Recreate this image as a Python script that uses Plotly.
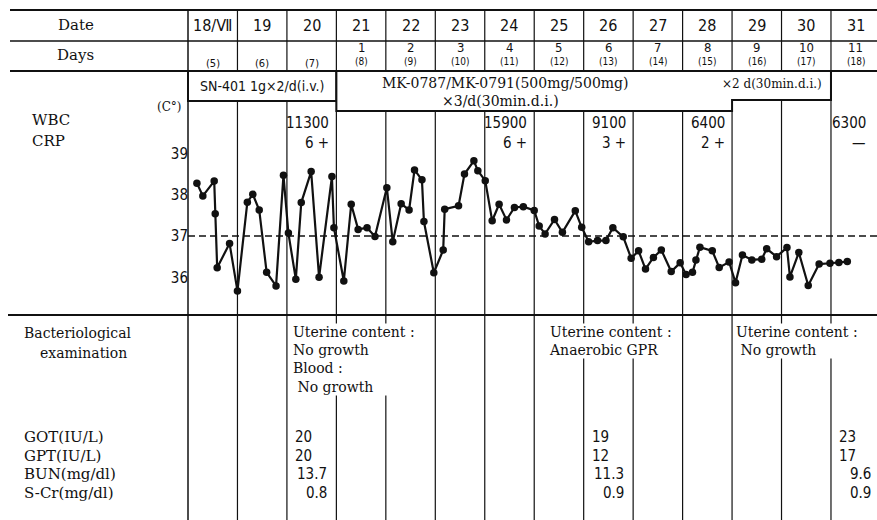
import plotly.graph_objects as go

# ---------------- data ----------------
dates = ["18/Ⅶ", "19", "20", "21", "22", "23", "24", "25", "26", "27", "28", "29", "30", "31"]
post_days = ["", "", "", "1", "2", "3", "4", "5", "6", "7", "8", "9", "10", "11"]
hosp_days = ["(5)", "(6)", "(7)", "(8)", "(9)", "(10)", "(11)", "(12)", "(13)", "(14)", "(15)", "(16)", "(17)", "(18)"]

wbc = ["", "", "11300", "", "", "", "15900", "", "9100", "", "6400", "", "", "6300"]
crp = ["", "", "6 +", "", "", "", "6 +", "", "3 +", "", "2 +", "", "", "—"]

got = ["", "", "20", "", "", "", "", "", "19", "", "", "", "", "23"]
gpt = ["", "", "20", "", "", "", "", "", "12", "", "", "", "", "17"]
bun = ["", "", "13.7", "", "", "", "", "", "11.3", "", "", "", "", "9.6"]
scr = ["", "", "0.8", "", "", "", "", "", "0.9", "", "", "", "", "0.9"]
lab_labels = ["GOT(IU/L)", "GPT(IU/L)", "BUN(mg/dl)", "S-Cr(mg/dl)"]

bact_col = [2, 8, 11]
bact_lines = [
    ["Uterine content :", "No growth", "Blood :", " No growth"],
    ["Uterine content :", "Anaerobic GPR"],
    ["Uterine content :", " No growth"],
]

drug1 = "SN-401 1g×2/d(i.v.)"
drug2a = "MK-0787/MK-0791(500mg/500mg)"
drug2b = "×3/d(30min.d.i.)"
drug2c = "×2 d(30min.d.i.)"

temp_time = [0.18, 0.30, 0.53, 0.55, 0.59, 0.84, 1.00, 1.20, 1.31, 1.44,
             1.59, 1.78, 1.93, 2.03, 2.18, 2.29, 2.49, 2.65, 2.91, 2.95,
             3.15, 3.30, 3.44, 3.62, 3.78, 4.02, 4.14, 4.31, 4.47, 4.58,
             4.73, 4.77, 4.97, 5.16, 5.19, 5.47, 5.59, 5.78, 5.86, 6.01,
             6.15, 6.29, 6.44, 6.60, 6.78, 7.00, 7.10, 7.22, 7.41, 7.57,
             7.83, 7.96, 8.10, 8.28, 8.45, 8.59, 8.80, 8.96, 9.11, 9.25,
             9.41, 9.57, 9.77, 9.95, 10.07, 10.20, 10.27, 10.35, 10.60, 10.74,
             10.94, 11.07, 11.21, 11.40, 11.60, 11.70, 11.90, 12.11, 12.17, 12.35,
             12.54, 12.76, 12.98, 13.16, 13.33]
temp_c = [38.28, 37.97, 38.33, 37.54, 36.23, 36.82, 35.67, 37.82, 38.01, 37.63,
          36.12, 35.79, 38.47, 37.07, 35.95, 37.81, 38.56, 36.00, 38.44, 37.20,
          35.91, 37.77, 37.16, 37.20, 36.99, 38.17, 36.86, 37.78, 37.63, 38.60,
          38.36, 37.35, 36.11, 36.66, 37.65, 37.73, 38.50, 38.82, 38.58, 38.34,
          37.37, 37.77, 37.39, 37.69, 37.71, 37.62, 37.24, 37.05, 37.40, 37.09,
          37.61, 37.21, 36.86, 36.89, 36.89, 37.20, 36.98, 36.46, 36.64, 36.20,
          36.48, 36.66, 36.14, 36.35, 36.07, 36.12, 36.42, 36.73, 36.64, 36.24,
          36.37, 35.87, 36.54, 36.42, 36.44, 36.69, 36.50, 36.72, 36.01, 36.60,
          35.80, 36.32, 36.34, 36.36, 36.38]
temp_ticks = [36, 37, 38, 39]
baseline_temp = 37

# ---------------- layout constants (pixels) ----------------
W, H = 877, 520
X0, CW = 188.0, 49.46          # pixel of day-column 0, column width
T_REF_PY, PX_DEG = 236.0, 41.3  # pixel row of 37 C, pixels per degree
NCOL = len(dates)

SERIF = "DejaVu Serif, Liberation Serif, serif"
NARROW = "Liberation Sans Narrow, DejaVu Sans Condensed, Liberation Sans, sans-serif"
INK = "#111111"


def py(p):
    return 1 - p / H


def pxp(p):
    return p / W


def dx(p):  # pixel -> data x
    return (p - X0) / CW


shapes = []


def hline(y, x0, x1, w=1.8):
    shapes.append(dict(type="line", xref="paper", yref="paper", x0=pxp(x0), x1=pxp(x1),
                       y0=py(y), y1=py(y), line=dict(color=INK, width=w)))


def vline_col(i, y0, y1, w=1.2):
    shapes.append(dict(type="line", xref="x", yref="paper", x0=i, x1=i,
                       y0=py(y0), y1=py(y1), line=dict(color=INK, width=w)))


# horizontal rules
hline(10, 10, W, 2)
hline(41, 10, W, 1.6)
hline(71, 10, W, 2)
hline(315, 8, W, 2)

# vertical rules
vline_col(0, 10, H, 1.5)
for i in range(1, NCOL):
    vline_col(i, 10, 71)
    if i in (1, 2):
        start = 101
    elif 4 <= i <= 10:
        start = 111
    elif i in (11, 12):
        start = 100
    else:
        start = 71
    vline_col(i, start, H)

# drug boxes
shapes.append(dict(type="rect", xref="x", yref="paper", x0=0, x1=3, y0=py(71), y1=py(101),
                   line=dict(color=INK, width=2), fillcolor="white", layer="above"))
path = "M 3 {a} L 13 {a} L 13 {b} L 11 {b} L 11 {c} L 3 {c} Z".format(a=py(71), b=py(100), c=py(111))
shapes.append(dict(type="path", xref="x", yref="paper", path=path,
                   line=dict(color=INK, width=2), fillcolor="white", layer="above"))

# baseline 37 C
shapes.append(dict(type="line", xref="x", yref="y", x0=0, x1=NCOL, y0=baseline_temp, y1=baseline_temp,
                   line=dict(color=INK, width=1.3, dash="7px,4px"), layer="below"))

ann = []


def text(x, y, s, size=14, family=SERIF, xanchor="center", xref="x", bg=None, yanchor="middle"):
    d = dict(x=x, y=y, xref=xref, yref="paper", text=s, showarrow=False, align="left",
             xanchor=xanchor, yanchor=yanchor, font=dict(size=size, family=family, color=INK))
    if bg:
        d.update(bgcolor=bg, borderpad=0)
    ann.append(d)


# header
text(pxp(76), py(25), "Date", 15, SERIF, xref="paper")
text(pxp(75), py(55), "Days", 15, SERIF, xref="paper")
for i in range(NCOL):
    text(i + 0.5, py(25), dates[i], 16, NARROW)
    if post_days[i]:
        text(i + 0.5, py(47), post_days[i], 13, NARROW)
        text(i + 0.5, py(61), hosp_days[i], 10, NARROW)
    else:
        text(i + 0.5, py(63), hosp_days[i], 11, NARROW)

# drugs
text(dx(262), py(86), drug1, 14, NARROW)
text(dx(380), py(83), drug2a, 14, SERIF, xanchor="left")
text(dx(440), py(101), drug2b, 14, SERIF, xanchor="left")
text(dx(824), py(84), drug2c, 12, SERIF, xanchor="right")

# left labels of temperature area
text(pxp(30), py(120), "WBC", 15, SERIF, xanchor="left", xref="paper")
text(pxp(30), py(141), "CRP", 15, SERIF, xanchor="left", xref="paper")
text(pxp(184), py(107), "(C°)", 12, SERIF, xanchor="right", xref="paper")

for i in range(NCOL):
    right_px = min(X0 + (i + 1) * CW, 873) - 5
    if wbc[i]:
        text(dx(right_px), py(123), wbc[i], 15, NARROW, xanchor="right")
    if crp[i]:
        text(dx(right_px), py(143), crp[i], 15, NARROW, xanchor="right")

# bacteriology
text(pxp(22), py(333), "Bacteriological", 14, SERIF, xanchor="left", xref="paper")
text(pxp(38), py(353), "examination", 14, SERIF, xanchor="left", xref="paper")
bact_dx = [5, -36, 3]
for k, col in enumerate(bact_col):
    text(col + bact_dx[k] / CW, py(323), "<br>".join(bact_lines[k]), 14, SERIF,
         xanchor="left", yanchor="top", bg="white")

# lab table
lab_y = [437, 456, 474, 493]
for j, lab in enumerate(lab_labels):
    text(pxp(22), py(lab_y[j]), lab, 15, SERIF, xanchor="left", xref="paper")
for i in range(NCOL):
    if got[i]:
        text(i + 6 / CW, py(lab_y[0]), got[i], 15, NARROW, xanchor="left")
    if gpt[i]:
        text(i + 6 / CW, py(lab_y[1]), gpt[i], 15, NARROW, xanchor="left")
    if bun[i]:
        text(i + 42 / CW, py(lab_y[2]), bun[i], 15, NARROW, xanchor="right")
    if scr[i]:
        text(i + 42 / CW, py(lab_y[3]), scr[i], 15, NARROW, xanchor="right")

fig = go.Figure()
fig.add_trace(go.Scatter(
    x=temp_time, y=temp_c, mode="lines+markers",
    line=dict(color=INK, width=2.2),
    marker=dict(color=INK, size=7.5),
    hoverinfo="x+y", showlegend=False,
))

fig.update_layout(
    width=W, height=H,
    margin=dict(l=0, r=0, t=0, b=0),
    paper_bgcolor="white", plot_bgcolor="white",
    shapes=shapes, annotations=ann,
    xaxis=dict(range=[dx(0), dx(W)], visible=False, fixedrange=True),
    yaxis=dict(range=[baseline_temp - (H - T_REF_PY) / PX_DEG, baseline_temp + T_REF_PY / PX_DEG],
               tickvals=temp_ticks, ticktext=[str(t) for t in temp_ticks],
               showgrid=False, zeroline=False, showline=False, ticks="",
               anchor="free", position=pxp(X0), automargin=False,
               tickfont=dict(size=15, family=NARROW, color=INK), fixedrange=True),
    font=dict(family=SERIF, color=INK),
)

fig.write_html("out.html")
